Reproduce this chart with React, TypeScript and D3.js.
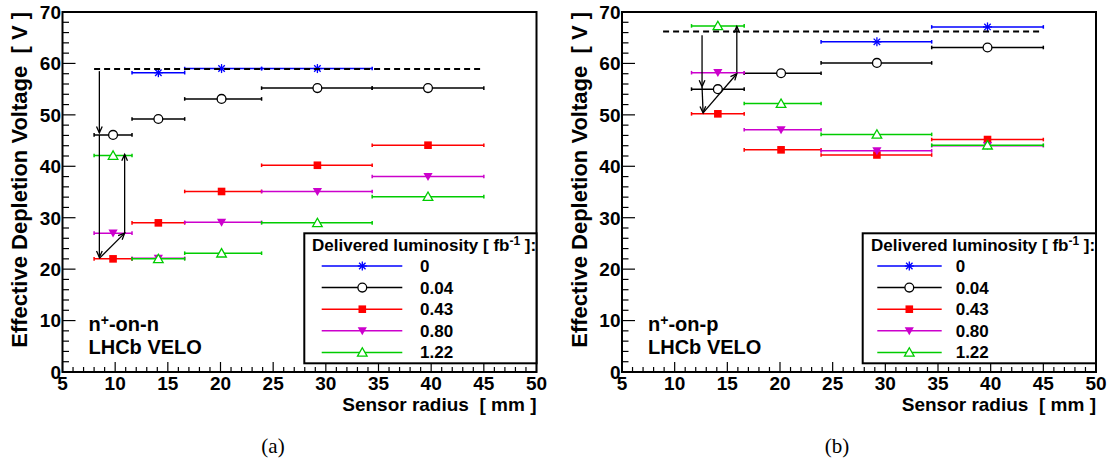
import React from 'react';
import * as d3 from 'd3';

// ---------- data ----------
const binEdges = [8.0, 11.6, 16.6, 23.9, 34.4, 45.0];
const binCenters = [9.8, 14.1, 20.1, 29.2, 39.7];
const lumiLabels = ['0', '0.04', '0.43', '0.80', '1.22'];
const seriesColors = ['#0000ff', '#000000', '#ff0000', '#cc00cc', '#00cc00'];
const seriesMarkers = ['star', 'circle', 'square', 'triDown', 'triUp'];

// (a) n+-on-n  effective depletion voltage [V] per radius bin
const vdepA_0 = [null, 58.2, 59.0, 59.0, null];
const vdepA_004 = [46.1, 49.2, 53.1, 55.2, 55.2];
const vdepA_043 = [22.0, 29.0, 35.1, 40.2, 44.1];
const vdepA_080 = [27.0, 22.1, 29.1, 35.1, 38.0];
const vdepA_122 = [42.1, 22.0, 23.1, 29.0, 34.1];
const plateauA = { v: 58.9, from: 8.0, to: 45.0 };
const arrowsA = [
  [8.5, 58.5, 8.5, 46.5],
  [8.5, 46.1, 8.5, 22.3],
  [8.5, 22.1, 10.9, 27.0],
  [10.9, 27.0, 10.9, 42.3],
];

// (b) n+-on-p
const vdepB_0 = [null, null, null, 64.2, 67.1];
const vdepB_004 = [null, 55.0, 58.1, 60.1, 63.1];
const vdepB_043 = [null, 50.2, 43.2, 42.2, 45.2];
const vdepB_080 = [null, 58.2, 47.1, 43.0, 44.0];
const vdepB_122 = [null, 67.3, 52.2, 46.2, 44.1];
const plateauB = { v: 66.2, from: 8.9, to: 44.9 };
const arrowsB = [
  [12.6, 65.5, 12.6, 55.5],
  [12.6, 55.4, 12.7, 50.4],
  [12.7, 50.4, 15.9, 58.0],
  [15.9, 58.3, 15.9, 67.2],
];

const xTicksMajor = d3.range(5, 51, 5);
const xTicksMinor = d3.range(5, 51, 1);
const yTicksMajor = d3.range(0, 71, 10);
const yTicksMinor = d3.range(0, 71, 2);

const FONT = '"Liberation Sans", Arial, Helvetica, sans-serif';

function Marker({ type, x, y, color }: { type: string; x: number; y: number; color: string }) {
  if (type === 'star') {
    const r = 4.5;
    const d = r * 0.72;
    return (
      <g stroke={color} strokeWidth={1.3}>
        <line x1={x - r} y1={y} x2={x + r} y2={y} />
        <line x1={x} y1={y - r} x2={x} y2={y + r} />
        <line x1={x - d} y1={y - d} x2={x + d} y2={y + d} />
        <line x1={x - d} y1={y + d} x2={x + d} y2={y - d} />
      </g>
    );
  }
  if (type === 'circle') {
    return <circle cx={x} cy={y} r={4.4} fill="white" stroke={color} strokeWidth={1.3} />;
  }
  if (type === 'square') {
    return <rect x={x - 3.8} y={y - 3.8} width={7.6} height={7.6} fill={color} />;
  }
  if (type === 'triDown') {
    return <path d={`M${x - 4.6},${y - 3.6}L${x + 4.6},${y - 3.6}L${x},${y + 4.4}Z`} fill={color} />;
  }
  return (
    <path
      d={`M${x - 4.8},${y + 3.8}L${x + 4.8},${y + 3.8}L${x},${y - 4.6}Z`}
      fill="white"
      stroke={color}
      strokeWidth={1.3}
    />
  );
}

function Arrow({ x1, y1, x2, y2 }: { x1: number; y1: number; x2: number; y2: number }) {
  const ang = Math.atan2(y2 - y1, x2 - x1);
  const L = 7;
  const a = 0.42;
  const p1 = [x2 - L * Math.cos(ang - a), y2 - L * Math.sin(ang - a)];
  const p2 = [x2 - L * Math.cos(ang + a), y2 - L * Math.sin(ang + a)];
  return (
    <g stroke="#000" strokeWidth={1.3} fill="none">
      <line x1={x1} y1={y1} x2={x2} y2={y2} />
      <path d={`M${p1[0]},${p1[1]}L${x2},${y2}L${p2[0]},${p2[1]}`} />
    </g>
  );
}

type PanelProps = {
  left: number;
  series: (number | null)[][];
  plateau: { v: number; from: number; to: number };
  arrows: number[][];
  label: string;
  caption: string;
  captionX: number;
  legend: { x0: number; titleX: number; lineX1: number; lineX2: number; markX: number; textX: number };
};

function Panel({ left, series, plateau, arrows, label, caption, captionX, legend }: PanelProps) {
  const top = 12;
  const bottom = 372;
  const width = 474;
  const x = d3.scaleLinear().domain([5, 50]).range([left, left + width]);
  const y = d3.scaleLinear().domain([0, 70]).range([bottom, top]);
  const right = left + width;

  const rowY = (i: number) => 266 + i * 21.6;

  return (
    <g fontFamily={FONT} fontWeight="bold">
      {/* frame */}
      <rect x={left} y={top} width={width} height={bottom - top} fill="none" stroke="#000" strokeWidth={2} />
      {/* y ticks */}
      {yTicksMinor.map((t) => (
        <line key={'ym' + t} x1={left} x2={left + (t % 10 === 0 ? 13 : 6.5)} y1={y(t)} y2={y(t)} stroke="#000" strokeWidth={1.2} />
      ))}
      {xTicksMinor.map((t) => (
        <line key={'xm' + t} y1={bottom} y2={bottom - (t % 5 === 0 ? 10 : 5)} x1={x(t)} x2={x(t)} stroke="#000" strokeWidth={1.2} />
      ))}
      {yTicksMajor.map((t) => (
        <text key={'yl' + t} x={left - 1.5} y={y(t) + 6.8} textAnchor="end" fontSize={19}>
          {t}
        </text>
      ))}
      {xTicksMajor.map((t) => (
        <text key={'xl' + t} x={x(t)} y={390} textAnchor="middle" fontSize={19}>
          {t}
        </text>
      ))}
      <text x={right} y={410.5} textAnchor="end" fontSize={19} style={{ whiteSpace: 'pre' }}>
        {'Sensor radius  [ mm ]'}
      </text>
      <text
        transform={`translate(${left - 35.5},${top}) rotate(-90)`}
        textAnchor="end"
        fontSize={22}
        style={{ whiteSpace: 'pre' }}
      >
        {'Effective Depletion Voltage  [ V ]'}
      </text>

      {/* series */}
      {series.map((vals, si) => (
        <g key={'s' + si}>
          {vals.map((v, bi) =>
            v == null ? null : (
              <g key={bi} stroke={seriesColors[si]} strokeWidth={1.5}>
                <line x1={x(binEdges[bi])} x2={x(binEdges[bi + 1])} y1={y(v)} y2={y(v)} />
                <line x1={x(binEdges[bi])} x2={x(binEdges[bi])} y1={y(v) - 1.8} y2={y(v) + 1.8} />
                <line x1={x(binEdges[bi + 1])} x2={x(binEdges[bi + 1])} y1={y(v) - 1.8} y2={y(v) + 1.8} />
              </g>
            )
          )}
          {vals.map((v, bi) =>
            v == null ? null : (
              <Marker key={'m' + bi} type={seriesMarkers[si]} x={x(binCenters[bi])} y={y(v)} color={seriesColors[si]} />
            )
          )}
        </g>
      ))}

      {/* plateau */}
      <line
        x1={x(plateau.from)}
        x2={x(plateau.to)}
        y1={y(plateau.v)}
        y2={y(plateau.v)}
        stroke="#000"
        strokeWidth={2}
        strokeDasharray="6,4"
      />
      {arrows.map((a, i) => (
        <Arrow key={'a' + i} x1={x(a[0])} y1={y(a[1])} x2={x(a[2])} y2={y(a[3])} />
      ))}

      {/* label */}
      <text x={left + 26} y={331} fontSize={20}>
        n<tspan fontSize={14} dy={-6}>+</tspan>
        <tspan dy={6}>{label}</tspan>
      </text>
      <text x={left + 26} y={354} fontSize={20}>
        LHCb VELO
      </text>

      {/* legend */}
      <rect x={legend.x0} y={233.3} width={right - legend.x0} height={130} fill="white" stroke="#000" strokeWidth={2} />
      <text x={legend.titleX} y={251} fontSize={17} style={{ whiteSpace: 'pre' }}>
        {'Delivered luminosity [ fb'}
        <tspan fontSize={12} dy={-6}>-1</tspan>
        <tspan dy={6}>{' ]:'}</tspan>
      </text>
      {lumiLabels.map((lab, i) => (
        <g key={'lg' + i}>
          <line x1={legend.lineX1} x2={legend.lineX2} y1={rowY(i)} y2={rowY(i)} stroke={seriesColors[i]} strokeWidth={1.5} />
          <Marker type={seriesMarkers[i]} x={legend.markX} y={rowY(i)} color={seriesColors[i]} />
          <text x={legend.textX} y={rowY(i) + 6} fontSize={17}>
            {lab}
          </text>
        </g>
      ))}

      <text x={captionX} y={453} textAnchor="middle" fontSize={21} fontWeight="normal" fontFamily='"Liberation Serif", "Times New Roman", serif'>
        {caption}
      </text>
    </g>
  );
}

export default function App() {
  const seriesA = [vdepA_0, vdepA_004, vdepA_043, vdepA_080, vdepA_122];
  const seriesB = [vdepB_0, vdepB_004, vdepB_043, vdepB_080, vdepB_122];
  return (
    <svg width={1110} height={465} style={{ position: 'absolute', left: 0, top: 0, background: 'white' }}>
      <rect width={1110} height={465} fill="white" />
      <Panel
        left={62.5}
        series={seriesA}
        plateau={plateauA}
        arrows={arrowsA}
        label="-on-n"
        caption="(a)"
        captionX={273}
        legend={{ x0: 304.3, titleX: 312, lineX1: 321.7, lineX2: 402.3, markX: 362.3, textX: 420 }}
      />
      <Panel
        left={622}
        series={seriesB}
        plateau={plateauB}
        arrows={arrowsB}
        label="-on-p"
        caption="(b)"
        captionX={837}
        legend={{ x0: 862.7, titleX: 871, lineX1: 877.3, lineX2: 941.7, markX: 909.3, textX: 955.7 }}
      />
    </svg>
  );
}
